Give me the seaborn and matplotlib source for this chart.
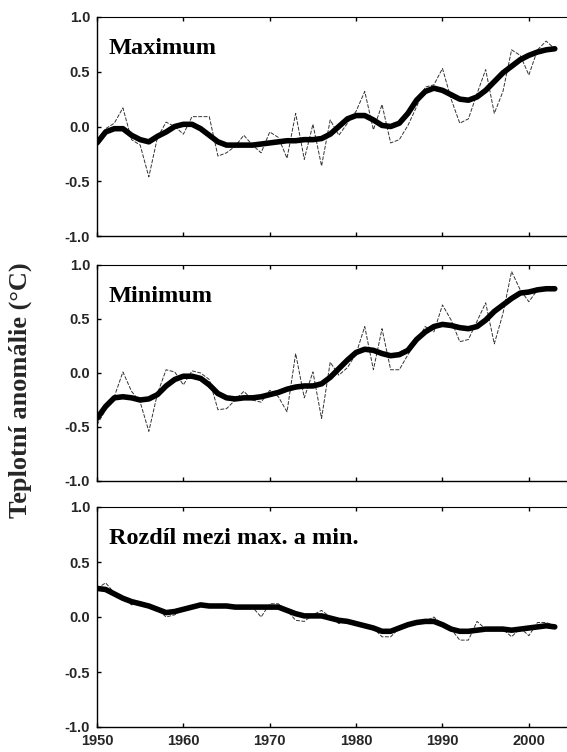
import numpy as np
import pandas as pd
import matplotlib
matplotlib.use("Agg")
import matplotlib.pyplot as plt
import seaborn as sns

years = list(range(1950, 2004))

max_annual = [-0.14, -0.02, 0.03, 0.17, -0.12, -0.17, -0.46, -0.10, 0.04, 0.00,
              -0.07, 0.09, 0.09, 0.09, -0.27, -0.24, -0.18, -0.08, -0.17, -0.24,
              -0.05, -0.10, -0.29, 0.12, -0.30, 0.02, -0.36, 0.06, -0.08, 0.03,
              0.14, 0.32, -0.03, 0.20, -0.15, -0.12, 0.01, 0.18, 0.36, 0.38,
              0.53, 0.25, 0.03, 0.07, 0.30, 0.52, 0.12, 0.32, 0.70, 0.65,
              0.47, 0.70, 0.78, 0.71]
max_smooth = [-0.15, -0.05, -0.02, -0.02, -0.08, -0.12, -0.14, -0.09, -0.05, 0.00,
              0.02, 0.02, -0.02, -0.08, -0.14, -0.17, -0.17, -0.17, -0.17, -0.16,
              -0.15, -0.14, -0.13, -0.13, -0.12, -0.12, -0.11, -0.07, 0.00, 0.07,
              0.10, 0.10, 0.06, 0.01, 0.00, 0.03, 0.12, 0.24, 0.32, 0.35,
              0.33, 0.29, 0.25, 0.24, 0.27, 0.33, 0.41, 0.49, 0.55, 0.61,
              0.65, 0.68, 0.70, 0.71]

min_annual = [-0.48, -0.34, -0.22, 0.01, -0.17, -0.27, -0.54, -0.19, 0.03, 0.01,
              -0.11, 0.02, 0.00, -0.06, -0.34, -0.33, -0.25, -0.17, -0.25, -0.27,
              -0.16, -0.22, -0.36, 0.18, -0.23, 0.01, -0.42, 0.10, -0.02, 0.05,
              0.18, 0.43, 0.03, 0.41, 0.03, 0.03, 0.17, 0.29, 0.43, 0.38,
              0.63, 0.49, 0.29, 0.31, 0.48, 0.65, 0.27, 0.55, 0.94, 0.77,
              0.66, 0.77, 0.78, 0.78]
min_smooth = [-0.42, -0.31, -0.23, -0.22, -0.23, -0.25, -0.24, -0.20, -0.12, -0.06,
              -0.03, -0.03, -0.05, -0.11, -0.19, -0.23, -0.24, -0.23, -0.23, -0.22,
              -0.20, -0.18, -0.15, -0.13, -0.12, -0.12, -0.10, -0.04, 0.04, 0.12,
              0.19, 0.22, 0.21, 0.18, 0.16, 0.17, 0.21, 0.31, 0.38, 0.43,
              0.45, 0.44, 0.42, 0.41, 0.43, 0.49, 0.57, 0.63, 0.69, 0.74,
              0.75, 0.77, 0.78, 0.78]

diff_annual = [0.26, 0.31, 0.22, 0.18, 0.11, 0.14, 0.10, 0.07, 0.00, 0.02,
               0.07, 0.10, 0.10, 0.10, 0.10, 0.10, 0.09, 0.09, 0.09, 0.00,
               0.12, 0.12, 0.06, -0.03, -0.04, 0.02, 0.06, 0.00, -0.06, -0.04,
               -0.05, -0.08, -0.10, -0.18, -0.18, -0.10, -0.07, -0.05, -0.04, 0.00,
               -0.07, -0.11, -0.21, -0.21, -0.04, -0.11, -0.11, -0.11, -0.18, -0.10,
               -0.17, -0.05, -0.05, -0.08]
diff_smooth = [0.26, 0.25, 0.21, 0.17, 0.14, 0.12, 0.10, 0.07, 0.04, 0.05,
               0.07, 0.09, 0.11, 0.10, 0.10, 0.10, 0.09, 0.09, 0.09, 0.09,
               0.09, 0.09, 0.06, 0.03, 0.01, 0.01, 0.01, -0.01, -0.03, -0.04,
               -0.06, -0.08, -0.10, -0.13, -0.13, -0.10, -0.07, -0.05, -0.04, -0.04,
               -0.07, -0.11, -0.13, -0.13, -0.12, -0.11, -0.11, -0.11, -0.12, -0.11,
               -0.10, -0.09, -0.08, -0.09]

titles = ["Maximum", "Minimum", "Rozdíl mezi max. a min."]
ylabel = "Teplotní anomálie (°C)"
yticks = [-1.0, -0.5, 0.0, 0.5, 1.0]
ytick_labels = ["-1.0", "-0.5", "0.0", "0.5", "1.0"]
xticks = [1950, 1960, 1970, 1980, 1990, 2000]
xtick_labels = ["1950", "1960", "1970", "1980", "1990", "2000"]

sns.set_style("white")
plt.rcParams["font.family"] = ["Liberation Sans", "DejaVu Sans"]

fig = plt.figure(figsize=(5.67, 7.52), dpi=100)
W, H = 567.0, 752.0
left = 97 / W
width = (566 - 97) / W
panels_px = [(17, 236), (265, 481), (507, 727)]
series = [(max_annual, max_smooth), (min_annual, min_smooth), (diff_annual, diff_smooth)]
serif = ["Liberation Serif", "DejaVu Serif"]

for i, ((top, bot), (ann, smo), title) in enumerate(zip(panels_px, series, titles)):
    ax = fig.add_axes([left, 1 - bot / H, width, (bot - top) / H])
    df = pd.DataFrame({"year": years, "annual": ann, "smooth": smo})
    sns.lineplot(data=df, x="year", y="annual", ax=ax, color="black",
                 linewidth=0.7, linestyle=(0, (4, 1.5)), alpha=0.8)
    sns.lineplot(data=df, x="year", y="smooth", ax=ax, color="black",
                 linewidth=4.0, solid_capstyle="round")
    ax.set_xlim(1950, 2004.3)
    ax.set_ylim(-1.0, 1.0)
    ax.set_xlabel("")
    ax.set_ylabel("")
    ax.set_yticks(yticks)
    ax.set_yticklabels(ytick_labels, fontsize=10.5, fontweight="bold")
    ax.set_xticks(xticks)
    if i == 2:
        ax.set_xticklabels(xtick_labels, fontsize=10.5, fontweight="bold")
    else:
        ax.set_xticklabels([])
    ax.tick_params(axis="both", direction="in", length=3, width=1, color="black",
                   top=True, bottom=True, left=True, right=False, pad=5)
    ax.tick_params(axis="y", pad=5)
    for s in ["left", "bottom", "top", "right"]:
        ax.spines[s].set_visible(True)
        ax.spines[s].set_color("black")
        ax.spines[s].set_linewidth(1.0)
    ax.spines["top"].set_linewidth(0.8)
    ax.spines["right"].set_visible(False)
    ax.text(0.025, 0.855, title, transform=ax.transAxes, fontsize=17.5,
            fontweight="bold", family=serif, ha="left", va="center", color="black")

fig.text(20 / W, 1 - 390 / H, ylabel, rotation=90, ha="center", va="center",
         fontsize=19, fontweight="bold", family=serif)

fig.savefig("out.png", dpi=100)
